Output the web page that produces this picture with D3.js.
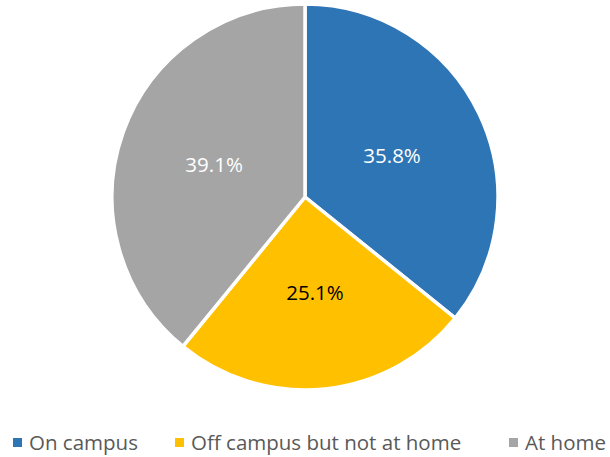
<!DOCTYPE html>
<html lang="en">
<head>
  <meta charset="utf-8">
  <title>Where students live</title>
  <script src="https://d3js.org/d3.v7.min.js"></script>
  <style>
    body { margin: 0; background: #fff; }
    text { font-family: "Open Sans", "Noto Sans", sans-serif; }
  </style>
</head>
<body>
<script>
  // data
  var categories = ["On campus", "Off campus but not at home", "At home"];
  var shares = [35.8, 25.1, 39.1];
  var labels = ["35.8%", "25.1%", "39.1%"];
  var colors = ["#2E75B6", "#FFC000", "#A5A5A5"];
  var labelColors = ["#ffffff", "#000000", "#ffffff"];

  var w = 610, h = 457;
  var cx = 305, cy = 197, r = 193;

  var svg = d3.select("body").append("svg")
    .attr("width", w)
    .attr("height", h);

  var pie = d3.pie().sort(null).value(function(d) { return d; });
  var arc = d3.arc().innerRadius(0).outerRadius(r);
  var labelArc = d3.arc().innerRadius(r * 0.5).outerRadius(r * 0.5);

  var g = svg.append("g").attr("transform", "translate(" + cx + "," + cy + ")");
  var arcs = pie(shares);

  g.selectAll("path")
    .data(arcs)
    .enter()
    .append("path")
    .attr("d", arc)
    .attr("fill", function(d, i) { return colors[i]; })
    .attr("stroke", "#fff")
    .attr("stroke-width", 3.5)
    .attr("stroke-linejoin", "round");

  g.selectAll("text.lbl")
    .data(arcs)
    .enter()
    .append("text")
    .attr("class", "lbl")
    .attr("transform", function(d) { return "translate(" + labelArc.centroid(d) + ")"; })
    .attr("text-anchor", "middle")
    .attr("dy", "0.35em")
    .attr("font-size", 20.5)
    .attr("fill", function(d, i) { return labelColors[i]; })
    .text(function(d, i) { return labels[i]; });

  // legend
  var legendX = [13, 175, 509];
  var legendY = 443;
  var legend = svg.selectAll("g.leg")
    .data(categories)
    .enter()
    .append("g")
    .attr("class", "leg")
    .attr("transform", function(d, i) { return "translate(" + legendX[i] + "," + legendY + ")"; });

  legend.append("rect")
    .attr("x", 0)
    .attr("y", -5)
    .attr("width", 9)
    .attr("height", 9)
    .attr("fill", function(d, i) { return colors[i]; });

  legend.append("text")
    .attr("x", 16)
    .attr("y", 0)
    .attr("dy", "0.35em")
    .attr("font-size", 20.5)
    .attr("fill", "#595959")
    .text(function(d) { return d; });
</script>
</body>
</html>
